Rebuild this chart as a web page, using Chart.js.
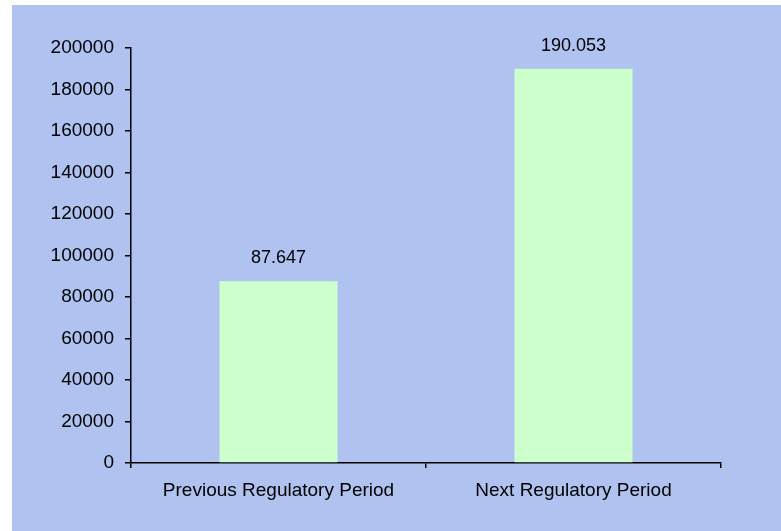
<!DOCTYPE html>
<html>
<head>
<meta charset="utf-8">
<script src="https://cdn.jsdelivr.net/npm/chart.js@4"></script>
<style>
  html, body { margin: 0; padding: 0; background: #ffffff; }
  #wrap { width: 781px; height: 531px; position: relative; }
</style>
</head>
<body>
<div id="wrap"><canvas id="chart"></canvas></div>
<script>
const categories = ['Previous Regulatory Period', 'Next Regulatory Period'];
const values = [87647, 190053];
const yTicks = { min: 0, max: 200000, step: 20000 };

const FONT = "'Liberation Sans', Arial, sans-serif";

// blue panel behind the plot
const panelBg = {
  id: 'panelBg',
  beforeDraw(chart) {
    const ctx = chart.ctx;
    ctx.save();
    ctx.fillStyle = '#afc2f0';
    ctx.fillRect(12, 5, chart.width - 12, chart.height - 5);
    ctx.restore();
  }
};

// value labels over each bar, dot as thousands separator
const barLabels = {
  id: 'barLabels',
  afterDatasetsDraw(chart) {
    const ctx = chart.ctx;
    const meta = chart.getDatasetMeta(0);
    ctx.save();
    ctx.font = '18px ' + FONT;
    ctx.fillStyle = '#000';
    ctx.textAlign = 'center';
    ctx.textBaseline = 'middle';
    meta.data.forEach((bar, i) => {
      const txt = values[i].toString().replace(/\B(?=(\d{3})+(?!\d))/g, '.');
      ctx.fillText(txt, bar.x, bar.y - 23);
    });
    ctx.restore();
  }
};

new Chart(document.getElementById('chart'), {
  type: 'bar',
  data: {
    labels: categories,
    datasets: [{
      data: values,
      backgroundColor: '#ccffcc',
      borderWidth: 0,
      categoryPercentage: 0.4,
      barPercentage: 1.0
    }]
  },
  plugins: [panelBg, barLabels],
  options: {
    responsive: true,
    maintainAspectRatio: false,
    animation: false,
    layout: { padding: { left: 0, right: 60, top: 48, bottom: 0 } },
    plugins: { legend: { display: false }, tooltip: { enabled: false } },
    scales: {
      x: {
        grid: { display: true, drawOnChartArea: false, drawTicks: true, tickLength: 5, color: '#000', offset: true, lineWidth: 1.5 },
        border: { display: true, color: '#000', width: 1.5 },
        ticks: { color: '#000', font: { family: FONT, size: 19 }, padding: 11, maxRotation: 0 },
        afterFit(scale) { scale.height = 68; }
      },
      y: {
        min: yTicks.min,
        max: yTicks.max,
        grid: { display: true, drawOnChartArea: false, drawTicks: true, tickLength: 6, color: '#000', lineWidth: 1.5 },
        border: { display: true, color: '#000', width: 1.5 },
        ticks: { stepSize: yTicks.step, color: '#000', font: { family: FONT, size: 19 }, padding: 11, callback: v => String(v) },
        afterFit(scale) { scale.width = 131; }
      }
    }
  }
});
</script>
</body>
</html>
